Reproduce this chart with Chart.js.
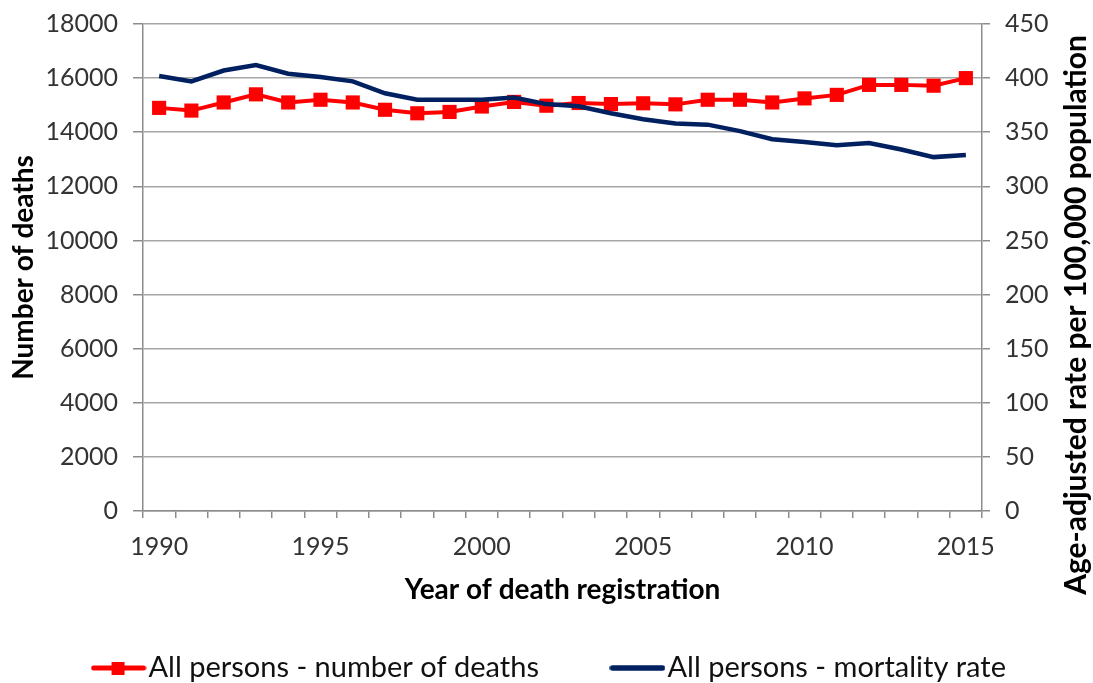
<!DOCTYPE html>
<html lang="en">
<head>
    <meta charset="UTF-8">
    <script src="https://cdn.jsdelivr.net/npm/chart.js"></script>
    <title>Deaths and mortality rate</title>
    <style>
        body {
            margin: 0;
            background: #fff;
        }
        .chart-container {
            position: relative;
            width: 1093px;
            height: 683px;
        }
    </style>
</head>
<body>

<div class="chart-container">
    <canvas id="deaths"></canvas>
</div>

<script>
    // values
    const years = [1990, 1991, 1992, 1993, 1994, 1995, 1996, 1997, 1998, 1999,
                   2000, 2001, 2002, 2003, 2004, 2005, 2006, 2007, 2008, 2009,
                   2010, 2011, 2012, 2013, 2014, 2015];
    const deaths = [14900, 14800, 15100, 15400, 15100, 15200, 15100, 14830, 14700, 14750,
                    14950, 15120, 14980, 15080, 15040, 15070, 15030, 15200, 15200, 15100,
                    15250, 15380, 15750, 15750, 15720, 16000];
    const rate = [402, 397, 407, 412, 404, 401, 397, 386, 380, 380,
                  380, 382, 376, 374, 367.5, 362, 358, 357, 351, 343.5,
                  341, 338, 340, 334, 327, 329];
    const tickEvery = 5;

    const seriesNames = ['All persons - number of deaths', 'All persons - mortality rate'];
    const leftTitle = 'Number of deaths';
    const rightTitle = 'Age-adjusted rate per 100,000 population';
    const xTitle = 'Year of death registration';

    const RED = '#ff0000';
    const NAVY = '#002060';
    const GRID = '#a6a6a6';
    const AXIS = '#8c8c8c';
    const FONT = 'Lato';

    // little legend symbols, like the Excel ones
    function legendSymbol(color, width, withSquare) {
        const c = document.createElement('canvas');
        c.width = 56;
        c.height = 16;
        const g = c.getContext('2d');
        g.strokeStyle = color;
        g.lineWidth = width;
        g.lineCap = 'round';
        g.beginPath();
        g.moveTo(3, 8);
        g.lineTo(53, 8);
        g.stroke();
        if (withSquare) {
            g.fillStyle = color;
            g.fillRect(21, 2, 13, 13);
        }
        return c;
    }
    const symbols = [legendSymbol(RED, 5, true), legendSymbol(NAVY, 5.5, false)];

    // right axis title reads bottom-to-top, chart.js would turn it the other way
    const rightTitlePlugin = {
        id: 'rightTitle',
        afterDraw(chart) {
            const ctx = chart.ctx;
            ctx.save();
            ctx.translate(1076, 315);
            ctx.rotate(-Math.PI / 2);
            ctx.font = 'bold 30px ' + FONT;
            ctx.fillStyle = '#000';
            ctx.textAlign = 'center';
            ctx.textBaseline = 'middle';
            ctx.fillText(rightTitle, 0, 0);
            ctx.restore();
        }
    };

    // fixed axis width, and no extra room above the top tick label
    function fixWidth(w) {
        return function (scale) {
            scale.width = w;
            scale.paddingTop = 0;
            scale.paddingBottom = 0;
        };
    }

    const ctx = document.getElementById('deaths');

    const chart = new Chart(ctx, {
        type: 'line',
        data: {
            labels: years.map(String),
            datasets: [{
                label: seriesNames[0],
                data: deaths,
                yAxisID: 'y',
                borderColor: RED,
                backgroundColor: RED,
                borderWidth: 4,
                pointStyle: 'rect',
                pointRadius: 10,
                pointBorderWidth: 0,
                tension: 0,
                order: 1
            }, {
                label: seriesNames[1],
                data: rate,
                yAxisID: 'y1',
                borderColor: NAVY,
                backgroundColor: NAVY,
                borderWidth: 4.5,
                pointRadius: 0,
                tension: 0,
                order: 0
            }]
        },
        options: {
            responsive: true,
            maintainAspectRatio: false,
            animation: false,
            layout: {
                padding: {top: 24, left: 16, right: 0, bottom: -9.5}
            },
            scales: {
                x: {
                    offset: true,
                    grid: {
                        offset: true,
                        drawOnChartArea: false,
                        drawTicks: true,
                        tickLength: 7,
                        color: AXIS,
                        lineWidth: 1.5
                    },
                    border: {color: AXIS, width: 1.5},
                    ticks: {
                        autoSkip: false,
                        maxRotation: 0,
                        padding: 14,
                        color: '#333',
                        font: {family: FONT, size: 25},
                        callback: function (val, i) {
                            return years[i] % tickEvery === 0 ? String(years[i]) : '';
                        }
                    },
                    title: {
                        display: true,
                        text: xTitle,
                        color: '#000',
                        font: {family: FONT, size: 28, weight: 'bold'},
                        padding: {top: 0, bottom: -36}
                    },
                    afterFit: function (scale) {
                        scale.height = 59.5;
                    }
                },
                y: {
                    position: 'left',
                    min: 0,
                    max: 18000,
                    ticks: {
                        stepSize: 2000,
                        padding: 15,
                        color: '#333',
                        font: {family: FONT, size: 25},
                        callback: v => String(v)
                    },
                    grid: {
                        color: GRID,
                        lineWidth: 1.5,
                        tickLength: 10,
                        tickColor: AXIS
                    },
                    border: {color: AXIS, width: 1.5},
                    title: {
                        display: true,
                        text: leftTitle,
                        color: '#000',
                        font: {family: FONT, size: 28, weight: 'bold'},
                        padding: {top: -9, bottom: 0}
                    },
                    afterFit: fixWidth(127)
                },
                y1: {
                    position: 'right',
                    min: 0,
                    max: 450,
                    ticks: {
                        stepSize: 50,
                        padding: 15,
                        color: '#333',
                        font: {family: FONT, size: 25}
                    },
                    grid: {
                        drawOnChartArea: false,
                        tickLength: 8,
                        color: AXIS,
                        lineWidth: 1.5
                    },
                    border: {color: AXIS, width: 1.5},
                    afterFit: fixWidth(111)
                }
            },
            plugins: {
                legend: {
                    position: 'bottom',
                    labels: {
                        usePointStyle: true,
                        pointStyleWidth: 31,
                        padding: 83,
                        color: '#111',
                        font: {family: FONT, size: 29},
                        sort: (a, b) => a.datasetIndex - b.datasetIndex,
                        generateLabels: function (chart) {
                            const items = Chart.defaults.plugins.legend.labels.generateLabels(chart);
                            items.forEach(item => {
                                item.pointStyle = symbols[item.datasetIndex];
                            });
                            return items;
                        }
                    }
                },
                tooltip: {
                    enabled: false
                }
            }
        },
        plugins: [rightTitlePlugin]
    });
</script>

</body>
</html>
